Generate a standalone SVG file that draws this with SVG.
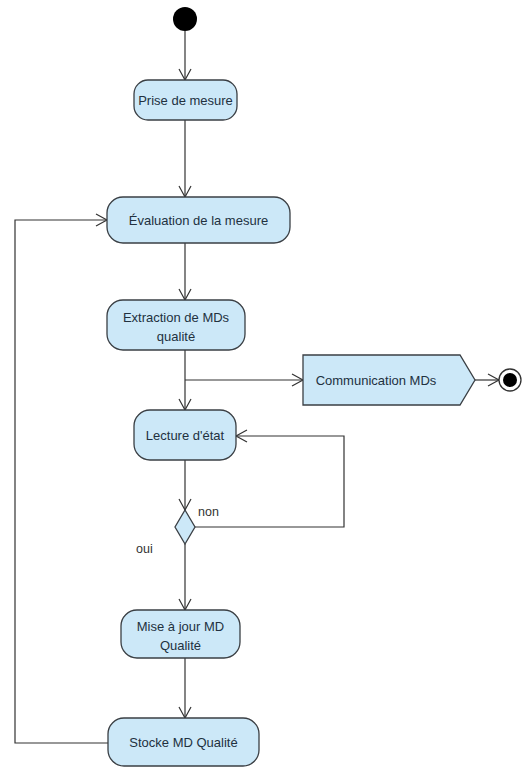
<svg xmlns="http://www.w3.org/2000/svg" width="522" height="776" viewBox="0 0 522 776">
  <defs>
    <marker id="arrow" markerWidth="14" markerHeight="14" refX="12" refY="7" orient="auto" markerUnits="userSpaceOnUse">
      <path d="M1,1 L12,7 L1,13" fill="none" stroke="#333" stroke-width="1.2"/>
    </marker>
  </defs>
  <style>
    .act { fill: #cce8f8; stroke: #3a3f44; stroke-width: 1.3; }
    .lbl { font-family: "Liberation Sans", Arial, sans-serif; font-size: 13px; fill: #22313f; text-anchor: middle; }
    .guard { font-family: "Liberation Sans", Arial, sans-serif; font-size: 12.5px; fill: #333; }
    .edge { fill: none; stroke: #333; stroke-width: 1.2; }
  </style>
  <rect width="522" height="776" fill="#ffffff"/>

  <!-- connectors -->
  <g id="connectors">
    <path class="edge" d="M185,31 L185,80" marker-end="url(#arrow)"/>
    <path class="edge" d="M185,120 L185,197" marker-end="url(#arrow)"/>
    <path class="edge" d="M185,243 L185,300" marker-end="url(#arrow)"/>
    <path class="edge" d="M185,350 L185,410" marker-end="url(#arrow)"/>
    <path class="edge" d="M185,380 L303,380" marker-end="url(#arrow)"/>
    <path class="edge" d="M475,380 L499,380" marker-end="url(#arrow)"/>
    <path class="edge" d="M185,460 L185,510" marker-end="url(#arrow)"/>
    <path class="edge" d="M195,527 L344,527 L344,436 L236,436" marker-end="url(#arrow)"/>
    <path class="edge" d="M185,544 L185,610" marker-end="url(#arrow)"/>
    <path class="edge" d="M185,658 L185,718" marker-end="url(#arrow)"/>
    <path class="edge" d="M108,743 L15,743 L15,220 L107,220" marker-end="url(#arrow)"/>
    <text class="guard" x="198" y="516">non</text>
    <text class="guard" x="136" y="553">oui</text>
  </g>

  <!-- start -->
  <g id="start">
    <circle cx="185" cy="19" r="12" fill="#000"/>
  </g>

  <g id="prise">
    <rect class="act" x="134" y="80" width="103" height="40" rx="14"/>
    <text class="lbl" x="185.5" y="104.5">Prise de mesure</text>
  </g>

  <g id="evaluation">
    <rect class="act" x="107" y="197" width="183" height="46" rx="16"/>
    <text class="lbl" x="198.5" y="224.5">Évaluation de la mesure</text>
  </g>

  <g id="extraction">
    <rect class="act" x="107" y="300" width="138" height="50" rx="16"/>
    <text class="lbl" x="176" y="322">Extraction de MDs</text>
    <text class="lbl" x="176" y="341">qualité</text>
  </g>

  <g id="communication">
    <path class="act" d="M303,355 L460,355 L475,380 L460,405 L303,405 Z"/>
    <text class="lbl" x="376" y="384.5">Communication MDs</text>
  </g>

  <g id="final">
    <circle cx="510" cy="380" r="11" fill="#fff" stroke="#333" stroke-width="1.3"/>
    <circle cx="510" cy="380" r="7" fill="#000"/>
  </g>

  <g id="lecture">
    <rect class="act" x="134" y="410" width="102" height="50" rx="16"/>
    <text class="lbl" x="185" y="440">Lecture d'état</text>
  </g>

  <g id="decision">
    <path class="act" d="M185,510 L195,527 L185,544 L175,527 Z"/>
  </g>

  <g id="miseajour">
    <rect class="act" x="121" y="610" width="119" height="48" rx="16"/>
    <text class="lbl" x="180.5" y="631">Mise à jour MD</text>
    <text class="lbl" x="180.5" y="650">Qualité</text>
  </g>

  <g id="stocke">
    <rect class="act" x="108" y="718" width="151" height="48" rx="16"/>
    <text class="lbl" x="183.5" y="746.5">Stocke MD Qualité</text>
  </g>
</svg>
